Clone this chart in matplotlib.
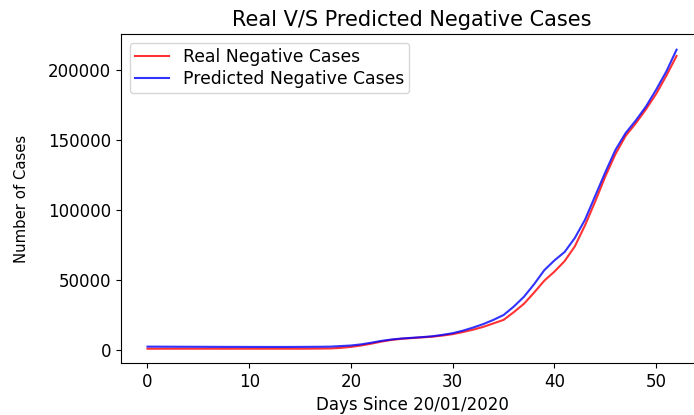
import numpy as np
import matplotlib
matplotlib.use("Agg")
import matplotlib.pyplot as plt

days = np.arange(53)

real_cases = [900, 900, 900, 900, 900, 900, 900, 900, 900, 900,
              900, 900, 900, 900, 900, 900, 950, 1000, 1100, 1500,
              2200, 3200, 4500, 6000, 7200, 8000, 8500, 9000, 9500, 10300,
              11300, 12800, 14500, 16500, 19000, 21500, 27000, 33000, 41000, 49500,
              56000, 63500, 74000, 89000, 106000, 124000, 140000, 153000, 162000, 172000,
              183000, 196000, 210000]

predicted_cases = [2400, 2380, 2350, 2320, 2300, 2280, 2250, 2230, 2200, 2200,
                   2180, 2170, 2160, 2160, 2170, 2200, 2250, 2300, 2400, 2800,
                   3200, 4000, 5200, 6500, 7500, 8200, 8700, 9200, 9800, 10800,
                   12000, 13800, 16000, 18500, 21500, 25000, 31000, 38000, 47000, 57000,
                   64000, 70000, 80000, 93000, 110000, 127000, 143000, 155000, 164000, 174000,
                   186000, 199000, 214500]

plt.rcParams['font.size'] = 12

fig = plt.figure(figsize=(6.94, 4.15), dpi=100)
ax = fig.add_axes([0.1744, 0.1253, 0.8386, 0.7928])

ax.plot(days, real_cases, color='red', alpha=0.8, lw=1.5, label='Real Negative Cases')
ax.plot(days, predicted_cases, color='blue', alpha=0.8, lw=1.5, label='Predicted Negative Cases')

ax.set_xlim(-2.6, 54.6)
ax.set_ylim(-9300, 225700)
ax.set_title('Real V/S Predicted Negative Cases', fontsize=15)
ax.set_xlabel('Days Since 20/01/2020', fontsize=12)
ax.set_ylabel('Number of Cases', fontsize=10.7, labelpad=14)
ax.legend(loc='upper left', fontsize=12.4, labelspacing=0.25, borderpad=0.3)

fig.savefig('out.png', dpi=100)
